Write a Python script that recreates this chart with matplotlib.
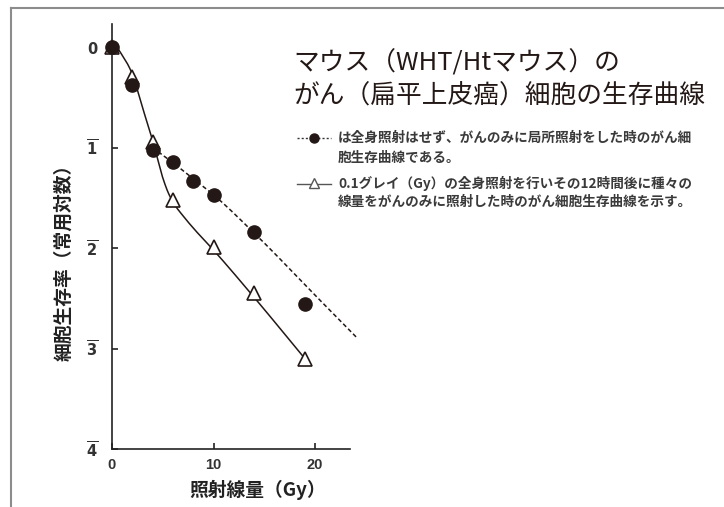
"""
マウス(WHT/Htマウス)のがん細胞生存曲線
片対数(常用対数)で線量と生存率をプロットする。
"""

import numpy as np
import matplotlib
matplotlib.use("Agg")
import matplotlib.pyplot as plt
from matplotlib.lines import Line2D

# 測定点 (線量 Gy, 生存率の常用対数)
dose_local = [0, 2, 4, 6, 8, 10, 14, 19]
logsf_local = [0, -0.38, -1.02, -1.14, -1.33, -1.47, -1.84, -2.56]

dose_pre = [0, 2, 4, 6, 10, 14, 19]
logsf_pre = [0, -0.30, -0.94, -1.52, -1.99, -2.45, -3.10]

# 図中の曲線をなぞった点
curve_pre_x = [0, 0.5, 1, 2, 3, 4, 5, 5.5, 6, 7, 8, 10, 14, 19]
curve_pre_y = [0, -0.01, -0.08, -0.27, -0.60, -0.93, -1.30, -1.44, -1.54, -1.68, -1.80,
               -2.02, -2.49, -3.10]

curve_local_x = [4, 6, 8, 10, 14, 20.5, 24.2]
curve_local_y = [-1.00, -1.15, -1.31, -1.47, -1.85, -2.52, -2.90]

xticks = [0, 10, 20]
yticks = [0, -1, -2, -3, -4]
ytick_labels = [r"$\mathbf{0}$", r"$\mathbf{\overline{1}}$", r"$\mathbf{\overline{2}}$",
                r"$\mathbf{\overline{3}}$", r"$\mathbf{\overline{4}}$"]

JP = ["Noto Sans CJK JP", "DejaVu Sans"]
NUM = ["Liberation Sans Narrow", "Liberation Sans", "DejaVu Sans"]
INK = "#231815"

plt.rcParams["mathtext.fontset"] = "custom"
plt.rcParams["mathtext.bf"] = "Liberation Sans Narrow:bold"
plt.rcParams["mathtext.rm"] = "Liberation Sans Narrow"


def smooth(xs, ys, n=30):
    """エルミート補間でなぞり点をなめらかにつなぐ"""
    xs = np.asarray(xs, float)
    ys = np.asarray(ys, float)
    m = np.gradient(ys, xs)
    m[0] = 0.0 if ys[1] == ys[0] else m[0]
    out_x, out_y = [], []
    for i in range(len(xs) - 1):
        h = xs[i + 1] - xs[i]
        t = np.linspace(0, 1, n, endpoint=False)
        h00 = 2 * t**3 - 3 * t**2 + 1
        h10 = t**3 - 2 * t**2 + t
        h01 = -2 * t**3 + 3 * t**2
        h11 = t**3 - t**2
        out_x.append(xs[i] + t * h)
        out_y.append(h00 * ys[i] + h10 * h * m[i] + h01 * ys[i + 1] + h11 * h * m[i + 1])
    out_x.append([xs[-1]])
    out_y.append([ys[-1]])
    return np.concatenate(out_x), np.concatenate(out_y)


W, H = 724, 507


def fx(px):
    return px / W


def fy(py):
    return 1 - py / H


fig = plt.figure(figsize=(W / 100, H / 100), dpi=100)
fig.patch.set_facecolor("white")

ax = fig.add_axes([fx(112), fy(449), fx(350) - fx(112), fy(24) - fy(449)])
ax.set_xlim(0, (350 - 112) / 10.15)
ax.set_ylim(-4, 0.23)

# 曲線
sx, sy = smooth(curve_pre_x, curve_pre_y)
ax.plot(sx, sy, color=INK, lw=1.1, zorder=2, clip_on=False)
dx, dy = smooth(curve_local_x, curve_local_y)
ax.plot(dx, dy, color=INK, lw=1.1, ls=(0, (2.8, 1.8)), zorder=2, clip_on=False)

# 測定点
ax.plot(dose_pre, logsf_pre, ls="none", marker="^", ms=10, mfc="white",
        mec=INK, mew=1.2, zorder=3, clip_on=False)
ax.plot(dose_local, logsf_local, ls="none", marker="o", ms=9.5, mfc=INK,
        mec=INK, zorder=4, clip_on=False)

# 軸
for side in ("top", "right"):
    ax.spines[side].set_visible(False)
for side in ("left", "bottom"):
    ax.spines[side].set_linewidth(1.2)
    ax.spines[side].set_color("#222222")

ax.set_xticks(xticks)
ax.set_xticklabels([str(v) for v in xticks], family=NUM, fontweight="bold",
                   fontsize=10.5, color="#333333")
ax.set_yticks(yticks)
ax.set_yticklabels(ytick_labels, fontsize=10.5, color="#333333")
ax.tick_params(axis="both", direction="in", length=4, width=1.2, color="#222222")
ax.tick_params(axis="x", pad=6.5)
ax.tick_params(axis="y", pad=10)

fig.text(fx(64), fy(258), "細胞生存率（常用対数）", rotation=90, ha="center", va="center",
         family=JP, fontweight="bold", fontsize=13.5, color="#222222")
fig.text(fx(258), fy(490), "照射線量（Gy）", ha="center", va="center",
         family=JP, fontweight="bold", fontsize=13.5, color="#222222")

# タイトル
fig.text(fx(293), fy(63), "マウス（WHT/Htマウス）の", ha="left", va="center",
         family=JP, fontsize=18.5, color=INK)
fig.text(fx(293), fy(97), "がん（扁平上皮癌）細胞の生存曲線", ha="left", va="center",
         family=JP, fontsize=18.5, color=INK)

# 凡例
fig.add_artist(Line2D([fx(297), fx(331)], [fy(138)] * 2, transform=fig.transFigure,
                      color="#333333", lw=1, ls=(0, (1.5, 1.5))))
fig.add_artist(Line2D([fx(314)], [fy(138)], transform=fig.transFigure, marker="o",
                      ms=6.5, mfc=INK, mec=INK, ls="none"))
fig.add_artist(Line2D([fx(297), fx(331)], [fy(184)] * 2, transform=fig.transFigure,
                      color="#555555", lw=1))
fig.add_artist(Line2D([fx(314)], [fy(183)], transform=fig.transFigure, marker="^",
                      ms=7.5, mfc="white", mec="#555555", mew=1, ls="none"))

legend_lines = [
    (138, "は全身照射はせず、がんのみに局所照射をした時のがん細"),
    (158, "胞生存曲線である。"),
    (183, "0.1グレイ（Gy）の全身照射を行いその12時間後に種々の"),
    (202, "線量をがんのみに照射した時のがん細胞生存曲線を示す。"),
]
for py, txt in legend_lines:
    fig.text(fx(338), fy(py), txt, ha="left", va="center", family=JP,
             fontweight="bold", fontsize=9.8, color="#3a3a3a")

# 枠線
fig.add_artist(Line2D([fx(11), 1], [fy(8)] * 2, transform=fig.transFigure,
                      color="#8c8c8c", lw=1.5))
fig.add_artist(Line2D([fx(11)] * 2, [fy(8), 0], transform=fig.transFigure,
                      color="#8c8c8c", lw=1.5))

fig.savefig("out.png", dpi=100, facecolor="white")
